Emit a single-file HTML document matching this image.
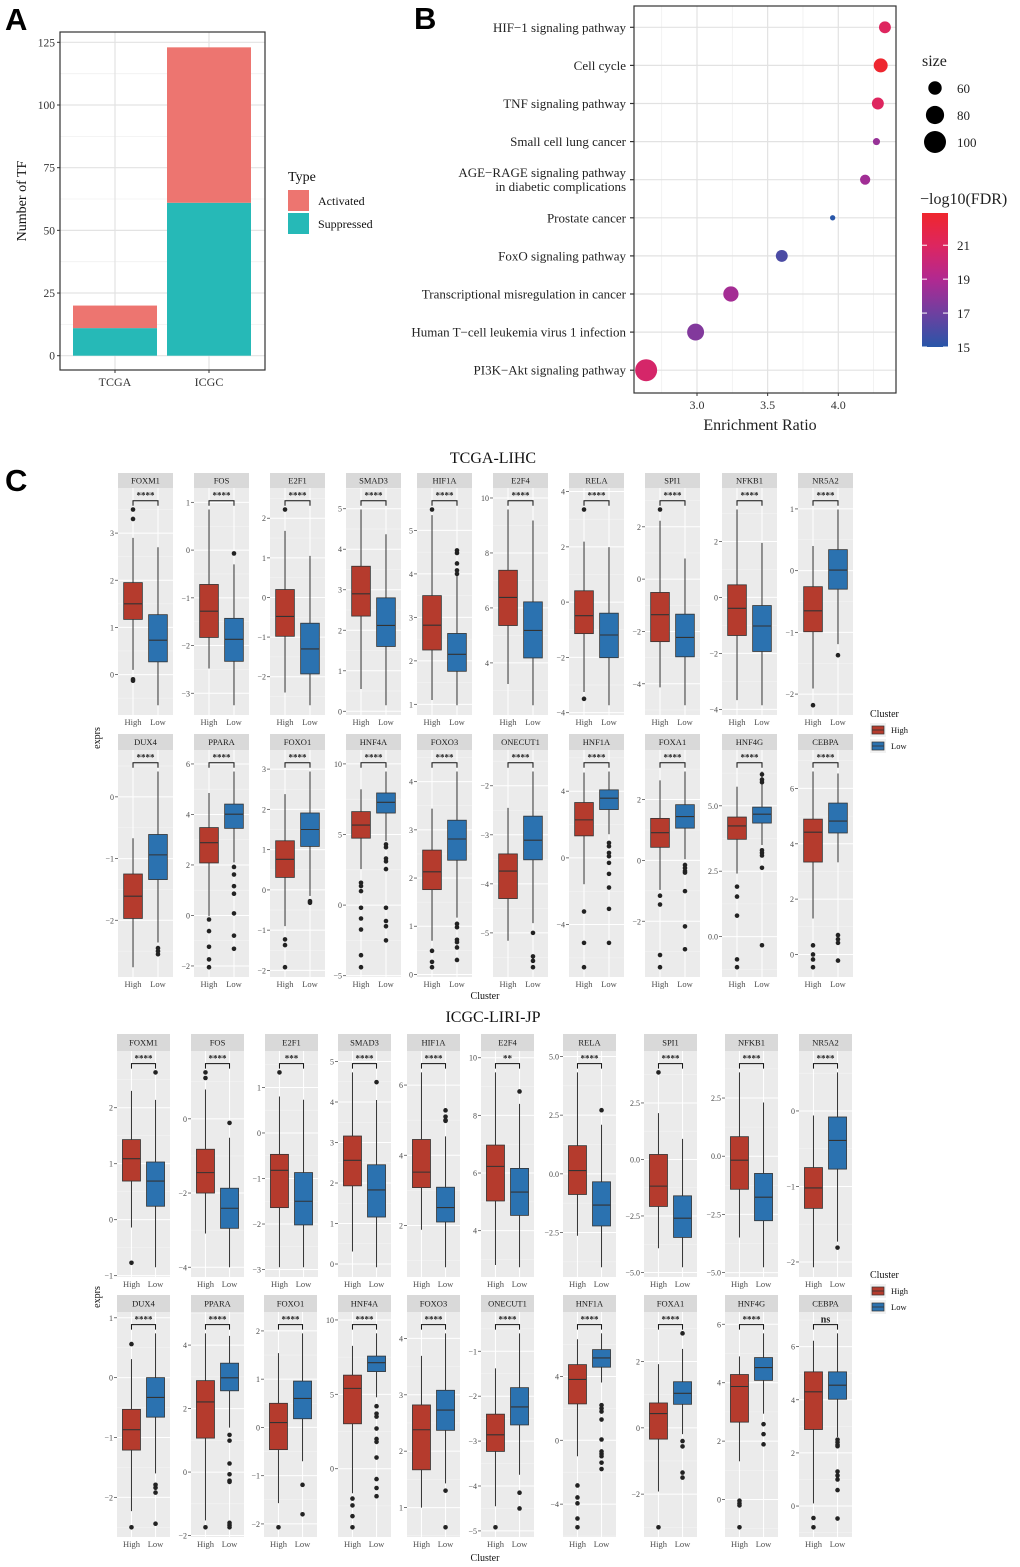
<!DOCTYPE html>
<html><head><meta charset="utf-8">
<style>
html,body{margin:0;padding:0;background:#fff;}
svg{display:block;font-family:"Liberation Serif",serif;}
</style></head>
<body>
<svg id="fig" width="1020" height="1567" viewBox="0 0 1020 1567" xmlns="http://www.w3.org/2000/svg">
<text x="5" y="30" font-family="Liberation Sans, sans-serif" font-weight="bold" font-size="31">A</text>
<text x="414" y="29" font-family="Liberation Sans, sans-serif" font-weight="bold" font-size="31">B</text>
<text x="5" y="491" font-family="Liberation Sans, sans-serif" font-weight="bold" font-size="31">C</text>
</svg>
<script>
// ---------- Panel A data ----------
const aCats = ["TCGA","ICGC"];
const aSuppressed = [11, 61];
const aActivated = [9, 62];
const aTicks = [0,25,50,75,100,125];

// ---------- Panel B data ----------
const bTerms = ["HIF\u22121 signaling pathway","Cell cycle","TNF signaling pathway","Small cell lung cancer","AGE\u2212RAGE signaling pathway|in diabetic complications","Prostate cancer","FoxO signaling pathway","Transcriptional misregulation in cancer","Human T\u2212cell leukemia virus 1 infection","PI3K\u2212Akt signaling pathway"];
const bRatio = [4.33,4.30,4.28,4.27,4.19,3.96,3.60,3.24,2.99,2.64];
const bSize = [55,62,55,43,50,40,55,67,74,100];
const bFDR = [21.0,22.8,21.0,18.2,18.5,15.0,16.0,18.6,17.6,20.6];
const bTicks = [3.0,3.5,4.0];
const bSizeLegend = [60,80,100];
const bFdrTicks = [15,17,19,21];

// ---------- Panel C data ----------
const r1Genes = ["FOXM1","FOS","E2F1","SMAD3","HIF1A","E2F4","RELA","SPI1","NFKB1","NR5A2"];
const r1Sig = ["****","****","****","****","****","****","****","****","****","****"];
const r1Ticks = [[0,1,2,3],[-3,-2,-1,0,1],[-2,-1,0,1,2],[0,1,2,3,4,5],[1,2,3,4,5],[4,6,8,10],[-4,-2,0,2,4],[-4,-2,0,2],[-4,-2,0,2],[-2,-1,0,1]];
const r1High = [[0.1,1.17,1.5,1.95,2.9],[-2.48,-1.83,-1.28,-0.72,0.85],[-2.4,-0.98,-0.48,0.2,1.68],[0.55,2.35,2.9,3.58,4.98],[1.1,2.25,2.82,3.5,5.35],[3.23,5.36,6.38,7.37,9.58],[-3.25,-1.14,-0.49,0.41,2.19],[-4.14,-2.39,-1.36,-0.51,2.23],[-3.67,-1.36,-0.39,0.45,3.14],[-1.91,-0.99,-0.65,-0.26,0.4]];
const r1Low = [[-0.65,0.27,0.73,1.27,2.7],[-3.25,-2.33,-1.87,-1.43,-0.3],[-2.72,-1.93,-1.3,-0.65,1.05],[0.15,1.6,2.12,2.8,4.37],[0.98,1.76,2.15,2.63,3.95],[2.46,4.18,5.18,6.22,9.18],[-3.73,-2.01,-1.19,-0.4,1.99],[-4.82,-2.97,-2.23,-1.34,0.79],[-3.85,-1.93,-1.02,-0.29,1.95],[-1.19,-0.30,0.01,0.34,0.99]];
const r1HighOut = [[3.5,3.3,-0.1,-0.13],[],[2.22],[],[5.48],[],[3.35,-3.5],[2.66],[],[-2.18]];
const r1LowOut = [[],[-0.07],[],[],[4.54,4.48,4.24,4.08,4.0],[],[],[],[],[-1.37]];

const r2Genes = ["DUX4","PPARA","FOXO1","HNF4A","FOXO3","ONECUT1","HNF1A","FOXA1","HNF4G","CEBPA"];
const r2Sig = ["****","****","****","****","****","****","****","****","****","****"];
const r2Ticks = [[-2,-1,0],[-2,0,2,4,6],[-2,-1,0,1,2,3],[-5,0,5,10],[0,1,2,3,4],[-5,-4,-3,-2],[-4,0,4],[-2,0,2],[0,2.5,5],[0,2,4,6]];
const r2High = [[-2.76,-1.97,-1.61,-1.25,-0.67],[-0.03,2.08,2.88,3.48,4.85],[-0.9,0.31,0.76,1.22,2.38],[2.55,4.74,5.67,6.62,8.2],[0.7,1.76,2.13,2.58,3.44],[-5.16,-4.3,-3.74,-3.39,-2.45],[-1.58,1.32,2.28,3.32,5.12],[-0.97,0.43,0.91,1.38,2.63],[2.41,3.72,4.23,4.57,5.73],[1.3,3.34,4.42,4.89,6.61]];
const r2Low = [[-2.36,-1.34,-0.94,-0.61,0.41],[2.1,3.45,4.01,4.41,5.7],[-0.15,1.08,1.5,1.91,2.94],[4.53,6.52,7.28,7.94,9.46],[1.18,2.37,2.81,3.2,4.21],[-4.8,-3.51,-3.11,-2.62,-1.71],[1.42,2.9,3.58,4.08,5.18],[0.04,1.06,1.44,1.83,2.92],[3.5,4.34,4.68,4.95,6.31],[3.33,4.39,4.82,5.47,6.54]];
const r2HighOut = [[],[-0.16,-0.62,-1.24,-1.74,-2.05],[-1.23,-1.37,-1.92],[1.58,1.35,0.99,-0.19,-0.95,-1.73,-3.55,-4.4],[0.49,0.26,0.15],[],[-3.22,-5.1,-6.56],[-1.16,-1.45,-3.11,-3.51],[1.91,1.53,0.8,-0.87,-1.17],[0.33,0,-0.18,-0.46]];
const r2LowOut = [[-2.45,-2.5,-2.55],[1.92,1.62,1.16,0.86,0.08,-0.8,-1.32],[-0.28,-0.32],[4.3,4.1,3.3,3.1,2.55,-0.19,-1.13,-1.5,-2.5],[1.05,0.98,0.72,0.67,0.56,0.3],[-5.0,-5.48,-5.57,-5.7],[0.9,0.7,0.3,0.1,-0.3,-0.96,-1.78,-3.06,-5.1],[-0.15,-0.25,-0.35,-0.4,-1.01,-2.17,-2.92],[3.3,3.2,3.1,2.63,6.2,6.0,5.9,-0.33],[0.7,0.55,0.42,-0.22]];

const r3Genes = ["FOXM1","FOS","E2F1","SMAD3","HIF1A","E2F4","RELA","SPI1","NFKB1","NR5A2"];
const r3Sig = ["****","****","***","****","****","**","****","****","****","****"];
const r3Ticks = [[-1,0,1,2],[-4,-2,0],[-3,-2,-1,0,1],[0,1,2,3,4,5],[2,4,6],[4,6,8,10],[-2.5,0,2.5,5],[-5,-2.5,0,2.5],[-5,-2.5,0,2.5],[-2,-1,0]];
const r3High = [[-0.14,0.69,1.09,1.43,2.3],[-3.09,-2.0,-1.45,-0.82,0.79],[-2.95,-1.64,-0.82,-0.47,0.8],[0.31,1.93,2.56,3.16,4.73],[1.88,3.08,3.52,4.45,6.36],[2.81,5.03,6.23,6.97,9.49],[-2.64,-0.88,0.14,1.2,4.32],[-3.93,-2.08,-1.18,0.22,2.05],[-3.49,-1.42,-0.17,0.84,3.6],[-2.07,-1.29,-1.02,-0.75,-0.06]];
const r3Low = [[-0.85,0.24,0.69,1.03,2.14],[-4.0,-2.95,-2.41,-1.87,-0.51],[-2.95,-2.02,-1.5,-0.87,0.73],[-0.08,1.16,1.83,2.45,4.05],[0.81,2.1,2.51,3.09,4.54],[2.73,4.53,5.34,6.16,8.4],[-3.98,-2.22,-1.33,-0.34,2.09],[-4.77,-3.45,-2.6,-1.61,0.91],[-4.77,-2.77,-1.76,-0.74,2.31],[-1.73,-0.77,-0.39,-0.08,0.51]];
const r3HighOut = [[-0.77],[1.25,1.1],[1.33],[],[],[],[],[3.85],[],[]];
const r3LowOut = [[2.63],[-0.11],[],[4.49],[5.28,5.1,5.0,4.98],[8.83],[2.71],[],[],[-1.81]];

const r4Genes = ["DUX4","PPARA","FOXO1","HNF4A","FOXO3","ONECUT1","HNF1A","FOXA1","HNF4G","CEBPA"];
const r4Sig = ["****","****","****","****","****","****","****","****","****","ns"];
const r4Ticks = [[-2,-1,0,1],[-2,0,2,4],[-2,-1,0,1,2],[0,5,10],[1,2,3,4],[-5,-4,-3,-2,-1],[-4,0,4],[-2,0,2],[0,2,4,6],[0,2,4,6]];
const r4High = [[-2.23,-1.21,-0.87,-0.53,0.31],[-1.52,1.07,2.21,2.88,4.37],[-1.57,-0.46,0.1,0.5,1.54],[-1.65,3.02,5.4,6.29,8.26],[1.0,1.67,2.38,2.82,3.69],[-4.45,-3.23,-2.86,-2.4,-1.38],[-1.0,2.28,3.81,4.74,6.33],[-1.92,-0.34,0.43,0.75,1.92],[1.31,2.65,3.87,4.28,4.9],[0.1,2.88,4.3,5.05,6.22]];
const r4Low = [[-1.6,-0.66,-0.33,0.0,0.74],[1.4,2.56,2.97,3.43,4.29],[-0.7,0.18,0.6,0.96,1.95],[4.8,6.53,7.13,7.57,9.1],[1.43,2.37,2.73,3.08,4.09],[-3.75,-2.64,-2.24,-1.81,-0.6],[3.62,4.58,5.16,5.68,6.7],[-0.19,0.71,1.04,1.39,2.38],[2.94,4.08,4.52,4.86,5.69],[2.6,4.02,4.55,5.05,6.5]];
const r4HighOut = [[0.56,-2.5],[-1.74],[-2.07],[-2.01,-2.47,-3.19,-3.94],[],[-4.92],[-2.83,-3.58,-3.95,-4.9,-5.45],[-3.0],[-0.04,-0.13,-0.2,-0.95],[-0.45,-0.8]];
const r4LowOut = [[-1.79,-1.84,-1.92,-2.44],[1.17,0.99,0.27,-0.07,-0.27,-0.31,-1.6,-1.67,-1.74],[-1.19,-1.8],[4.2,3.7,3.5,2.7,2.0,1.8,0.75,-0.7,-1.3,-1.85],[1.3,0.65],[-4.15,-4.5],[2.2,2.0,1.8,1.3,0.05,-0.7,-0.85,-1.0,-1.4,-1.8],[2.85,-0.4,-0.56,-1.35,-1.5],[2.58,2.24,1.89],[2.5,2.4,2.3,2.25,1.3,1.15,1.0,0.6,-0.47]];

const NS = "http://www.w3.org/2000/svg";
const svg = document.getElementById("fig");
function mk(tag, attrs, parent, txt){
  const e = document.createElementNS(NS, tag);
  for (const k in attrs) e.setAttribute(k, attrs[k]);
  if (txt !== undefined) e.textContent = txt;
  (parent || svg).appendChild(e);
  return e;
}
function grp(name, parent){
  const g = mk("g", {}, parent);
  
  
  return g;
}

// ================= Panel A =================
(function(){
  const g = grp("panel-a-stacked-bar-chart");
  const L=60, R=265, T=32, B=370;
  const y = v => 355.7 - v*2.507;
  const x = i => 115 + i*94;
  mk("rect",{x:L,y:T,width:R-L,height:B-T,fill:"#fff"},g);
  for (let i=0;i<aTicks.length;i++){
    const v=aTicks[i];
    const gl = mk("line",{x1:L,x2:R,y1:y(v),y2:y(v),stroke:"#E3E3E3","stroke-width":1.2},g);
    
    if (i<aTicks.length-1){
      const m = mk("line",{x1:L,x2:R,y1:y(v+12.5),y2:y(v+12.5),stroke:"#F0F0F0","stroke-width":0.8},g);
      
    }
    const t = mk("text",{x:L-5,y:y(v)+4,"text-anchor":"end","font-size":11.5,fill:"#333"},g,String(v));
    
    mk("line",{x1:L-3,x2:L,y1:y(v),y2:y(v),stroke:"#333"},g);
  }
  for (let i=0;i<aCats.length;i++){
    mk("line",{x1:x(i),x2:x(i),y1:T,y2:B,stroke:"#E3E3E3","stroke-width":1.2},g);
    const bw=84;
    const s = mk("rect",{x:x(i)-bw/2,y:y(aSuppressed[i]),width:bw,height:y(0)-y(aSuppressed[i]),fill:"#26B9B7"},g);
    
    
    const top = aSuppressed[i]+aActivated[i];
    const a = mk("rect",{x:x(i)-bw/2,y:y(top),width:bw,height:y(aSuppressed[i])-y(top),fill:"#ED7570"},g);
    
    
    mk("line",{x1:x(i),x2:x(i),y1:B,y2:B+3,stroke:"#333"},g);
    const t = mk("text",{x:x(i),y:B+16,"text-anchor":"middle","font-size":12,fill:"#333"},g,aCats[i]);
    
  }
  mk("rect",{x:L,y:T,width:R-L,height:B-T,fill:"none",stroke:"#333","stroke-width":1.2},g);
  const yt = mk("text",{x:0,y:0,transform:"translate(26,201) rotate(-90)","text-anchor":"middle","font-size":14,fill:"#111"},g,"Number of TF");
  
  const lg = grp("type-legend", g);
  mk("text",{x:288,y:181,"font-size":14,fill:"#111"},lg,"Type");
  const e1 = mk("rect",{x:288,y:190,width:21,height:21,fill:"#ED7570"},lg);
  
  mk("text",{x:318,y:205,"font-size":12,fill:"#111"},lg,"Activated");
  const e2 = mk("rect",{x:288,y:213,width:21,height:21,fill:"#26B9B7"},lg);
  
  mk("text",{x:318,y:228,"font-size":12,fill:"#111"},lg,"Suppressed");
})();

// ================= Panel B =================
function fdrColor(v){
  const stops=[[15,[40,86,168]],[17,[110,64,160]],[19,[178,40,145]],[21,[222,38,95]],[23,[240,38,42]]];
  if (v<=stops[0][0]) return "rgb("+stops[0][1].join(",")+")";
  for (let i=1;i<stops.length;i++){
    if (v<=stops[i][0]){
      const t=(v-stops[i-1][0])/(stops[i][0]-stops[i-1][0]);
      const c=stops[i-1][1].map((a,k)=>Math.round(a+(stops[i][1][k]-a)*t));
      return "rgb("+c.join(",")+")";
    }
  }
  return "rgb(240,38,42)";
}
const sizeR = s => Math.sqrt(Math.max(4, -69 + 1.9*s));
(function(){
  const g = grp("panel-b-dot-plot");
  const L=634, R=896, T=6, B=393;
  const x = v => 697 + (v-3.0)*141.3;
  const y = i => 27.3 + i*38.1;
  mk("rect",{x:L,y:T,width:R-L,height:B-T,fill:"#fff"},g);
  for (let v=2.75; v<4.4; v+=0.5){
    mk("line",{x1:x(v),x2:x(v),y1:T,y2:B,stroke:"#EFEFEF","stroke-width":0.8},g);
  }
  for (let i=0;i<bTicks.length;i++){
    const gl = mk("line",{x1:x(bTicks[i]),x2:x(bTicks[i]),y1:T,y2:B,stroke:"#E2E2E2","stroke-width":1.2},g);
    
    mk("line",{x1:x(bTicks[i]),x2:x(bTicks[i]),y1:B,y2:B+3,stroke:"#333"},g);
    const t = mk("text",{x:x(bTicks[i]),y:B+16,"text-anchor":"middle","font-size":12,fill:"#333"},g,bTicks[i].toFixed(1));
    
  }
  for (let i=0;i<bTerms.length;i++){
    mk("line",{x1:L,x2:R,y1:y(i),y2:y(i),stroke:"#E2E2E2","stroke-width":1.2},g);
    mk("line",{x1:L-4,x2:L,y1:y(i),y2:y(i),stroke:"#333","stroke-width":1.2},g);
    const parts = bTerms[i].split("|");
    if (parts.length===1){
      const t = mk("text",{x:626,y:y(i)+4.5,"text-anchor":"end","font-size":13,fill:"#222"},g,parts[0]);
      
    } else {
      const t = mk("text",{x:626,y:y(i)-2.5,"text-anchor":"end","font-size":13,fill:"#222"},g,parts[0]);
      
      const t2 = mk("text",{x:626,y:y(i)+11.5,"text-anchor":"end","font-size":13,fill:"#222"},g,parts[1]);
      
    }
  }
  for (let i=0;i<bTerms.length;i++){
    const c = mk("circle",{cx:x(bRatio[i]),cy:y(i),r:sizeR(bSize[i]),fill:fdrColor(bFDR[i])},g);
    
    
  }
  mk("rect",{x:L,y:T,width:R-L,height:B-T,fill:"none",stroke:"#333","stroke-width":1.2},g);
  const xt = mk("text",{x:760,y:430,"text-anchor":"middle","font-size":16,fill:"#222"},g,"Enrichment Ratio");
  
  // size legend
  const sl = grp("size-legend", g);
  mk("text",{x:922,y:66,"font-size":16,fill:"#222"},sl,"size");
  for (let i=0;i<bSizeLegend.length;i++){
    const cy = 88 + i*27;
    const c = mk("circle",{cx:935,cy:cy,r:sizeR(bSizeLegend[i]),fill:"#000"},sl);
    
    mk("text",{x:957,y:cy+5,"font-size":13,fill:"#222"},sl,String(bSizeLegend[i]));
  }
  // colorbar
  const cl = grp("fdr-colorbar-legend", g);
  mk("text",{x:920,y:204,"font-size":16,fill:"#222"},cl,"\u2212log10(FDR)");
  const defs = mk("defs",{},svg);
  const lgr = mk("linearGradient",{id:"fdrgrad",x1:0,y1:1,x2:0,y2:0},defs);
  const cTop=213, cBot=347, vTop=22.9, vBot=15;
  const cy = v => cBot - (v-vBot)/(vTop-vBot)*(cBot-cTop);
  for (let k=0;k<=8;k++){
    const v = vBot + (vTop-vBot)*k/8;
    mk("stop",{offset:(k/8),"stop-color":fdrColor(v)},lgr);
  }
  const bar = mk("rect",{x:922,y:cTop,width:26,height:cBot-cTop,fill:"url(#fdrgrad)"},cl);
  
  for (let i=0;i<bFdrTicks.length;i++){
    const yy = cy(bFdrTicks[i]);
    mk("line",{x1:922,x2:927,y1:yy,y2:yy,stroke:"#fff","stroke-width":1},cl);
    mk("line",{x1:943,x2:948,y1:yy,y2:yy,stroke:"#fff","stroke-width":1},cl);
    mk("text",{x:957,y:yy+5,"font-size":13,fill:"#222"},cl,String(bFdrTicks[i]));
  }
})();

// ================= Panel C =================
const HIGHC="#B53B2D", LOWC="#2B72B0";
function fmt(v, dec){ const s = dec ? v.toFixed(1) : String(v); return s.replace("-","\u2212"); }
function facet(parent, left, w, sTop, sBot, pBot, gene, ticks, hs, ls, ho, lo, sig){
  const g = grp("facet-"+gene.toLowerCase(), parent);
  const all = hs.concat(ls, ho, lo);
  const mn = Math.min.apply(null, all), mx = Math.max.apply(null, all);
  const r = mx - mn;
  const d0 = mn - 0.05*r, d1 = mx + 0.11*r;
  const y = v => pBot - (v-d0)/(d1-d0)*(pBot-sBot);
  const xH = left + w*0.273, xL = left + w*0.727, bw = w*0.34;
  const strip = mk("rect",{x:left,y:sTop,width:w,height:sBot-sTop,fill:"#D9D9D9"},g);
  
  mk("text",{x:left+w/2,y:sTop+(sBot-sTop)/2+3,"text-anchor":"middle","font-size":8.5,fill:"#1A1A1A"},g,gene);
  mk("rect",{x:left,y:sBot,width:w,height:pBot-sBot,fill:"#EBEBEB"},g);
  const dec = ticks.some(t=>t%1!==0);
  const step = ticks.length>1 ? ticks[1]-ticks[0] : 1;
  for (let i=0;i<ticks.length;i++){
    const t=ticks[i];
    const yy=y(t);
    const gl = mk("line",{x1:left,x2:left+w,y1:yy,y2:yy,stroke:"#fff","stroke-width":1},g);
    
    mk("line",{x1:left-3,x2:left,y1:yy,y2:yy,stroke:"#555","stroke-width":0.8},g);
    const tl = mk("text",{x:left-4,y:yy+3,"text-anchor":"end","font-size":8,fill:"#4D4D4D"},g,fmt(t,dec));
    
  }
  for (let v=ticks[0]-step/2; v<=d1; v+=step){
    if (v<d0) continue;
    mk("line",{x1:left,x2:left+w,y1:y(v),y2:y(v),stroke:"#F5F5F5","stroke-width":0.5},g);
  }
  [xH,xL].forEach(xx=>mk("line",{x1:xx,x2:xx,y1:sBot,y2:pBot,stroke:"#fff","stroke-width":1},g));
  function box(xc, s, col, outs, nm){
    const bg = grp("box-"+nm, g);
    mk("line",{x1:xc,x2:xc,y1:y(s[0]),y2:y(s[4]),stroke:"#333","stroke-width":1},bg);
    const rc = mk("rect",{x:xc-bw/2,y:y(s[3]),width:bw,height:y(s[1])-y(s[3]),fill:col,stroke:"#333","stroke-width":0.8},bg);
    
    mk("line",{x1:xc-bw/2,x2:xc+bw/2,y1:y(s[2]),y2:y(s[2]),stroke:"#333","stroke-width":1.1},bg);
    for (let i=0;i<outs.length;i++){
      const c = mk("circle",{cx:xc,cy:y(outs[i]),r:2.3,fill:"#222"},bg);
      
    }
  }
  box(xH, hs, HIGHC, ho, "high");
  box(xL, ls, LOWC, lo, "low");
  const by = y(mx + 0.045*r);
  const br = mk("path",{d:"M"+xH+","+(by+5)+"V"+by+"H"+xL+"V"+(by+5),fill:"none",stroke:"#111","stroke-width":1},g);
  
  const sl = mk("text",{x:(xH+xL)/2,y:by-2,"text-anchor":"middle","font-size":sig==="ns"?10:9,"font-weight":"bold",fill:"#222"},g,sig);
  
  mk("text",{x:xH,y:pBot+10,"text-anchor":"middle","font-size":8.5,fill:"#4D4D4D"},g,"High");
  mk("text",{x:xL,y:pBot+10,"text-anchor":"middle","font-size":8.5,fill:"#4D4D4D"},g,"Low");
}
const lefts12 = [118,194,270,346,417,493,569,645,722,798];
const lefts3 = [117,191,265,338,407,481,563,644,725,799];
const lefts4 = [117,191,264,338,407,481,563,644,725,799];
function drawRow(name, lefts, w, sTop, sBot, pBot, genes, ticks, hi, lo, hout, lout, sig){
  const g = grp(name);
  for (let i=0;i<genes.length;i++) facet(g, lefts[i], w, sTop, sBot, pBot, genes[i], ticks[i], hi[i], lo[i], hout[i], lout[i], sig[i]);
}
drawRow("tcga-row-1", lefts12, 55, 473, 488, 715, r1Genes, r1Ticks, r1High, r1Low, r1HighOut, r1LowOut, r1Sig);
drawRow("tcga-row-2", lefts12, 55, 734, 750, 977, r2Genes, r2Ticks, r2High, r2Low, r2HighOut, r2LowOut, r2Sig);
drawRow("icgc-row-1", lefts3, 53, 1034, 1051, 1277, r3Genes, r3Ticks, r3High, r3Low, r3HighOut, r3LowOut, r3Sig);
drawRow("icgc-row-2", lefts4, 53, 1295, 1312, 1537, r4Genes, r4Ticks, r4High, r4Low, r4HighOut, r4LowOut, r4Sig);

function sectionLabels(title, ty, exprsY, clusterY, legY){
  const g = grp("section-"+title.toLowerCase());
  const t = mk("text",{x:493,y:ty,"text-anchor":"middle","font-size":16,fill:"#111"},g,title);
  
  const e = mk("text",{x:0,y:0,transform:"translate(100,"+exprsY+") rotate(-90)","text-anchor":"middle","font-size":10,fill:"#111"},g,"exprs");
  
  const c = mk("text",{x:485,y:clusterY,"text-anchor":"middle","font-size":10,fill:"#111"},g,"Cluster");
  
  const lg = grp("cluster-legend", g);
  mk("text",{x:870,y:legY,"font-size":10,fill:"#111"},lg,"Cluster");
  [["High",HIGHC],["Low",LOWC]].forEach((p,i)=>{
    const yy = legY+6+i*16;
    mk("rect",{x:870,y:yy,width:16,height:14,fill:"#F2F2F2"},lg);
    const k = mk("rect",{x:872,y:yy+3,width:12,height:8,fill:p[1],stroke:"#333","stroke-width":0.7},lg);
    
    mk("line",{x1:872,x2:884,y1:yy+7,y2:yy+7,stroke:"#333","stroke-width":0.8},lg);
    mk("text",{x:891,y:yy+10,"font-size":8.5,fill:"#111"},lg,p[0]);
  });
}
sectionLabels("TCGA-LIHC", 463, 738, 999, 717);
sectionLabels("ICGC-LIRI-JP", 1022, 1297, 1561, 1278);
</script>
</body></html>
